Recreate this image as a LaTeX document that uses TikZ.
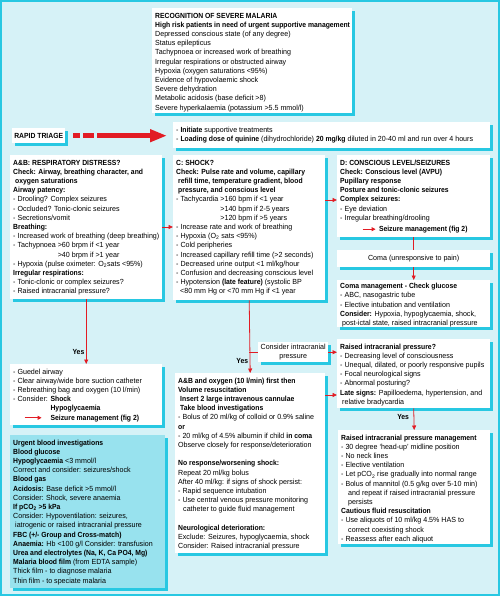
\documentclass[tikz,border=0pt]{standalone}
\usepackage{fontspec}
\setmainfont{Liberation Sans}[FakeStretch=0.96,BoldFeatures={FakeStretch=0.92}]
\usetikzlibrary{arrows.meta,shadows}

\definecolor{malbg}{RGB}{214,242,247}
\definecolor{malcyan}{RGB}{40,200,226}
\definecolor{malfill}{RGB}{152,226,238}
\definecolor{malred}{RGB}{226,28,36}

\newcommand{\panelfont}{\fontsize{7.4pt}{9.2pt}\selectfont}
\newcommand{\boxtext}[3]{\parbox[c][#2][t]{#1}{\begin{tabular}{@{}l@{}}#3\end{tabular}}}
\newcommand{\redarr}[1]{\tikz[baseline=-0.6ex]\draw[malred,line width=0.8pt,-{Triangle[length=4pt,width=4pt]}] (0,0) -- (#1,0);}

\tikzset{
  panel/.style={fill=white, anchor=north west, inner xsep=3pt, inner ysep=3.5pt, font=\panelfont,
    drop shadow={shadow xshift=2.5pt, shadow yshift=-2.5pt, fill=malcyan, opacity=1}},
  label box/.style={panel, inner sep=0pt, align=center},
  link/.style={draw=malred, line width=0.8pt, -{Triangle[length=4.5pt,width=4pt]}},
  plain link/.style={draw=malred, line width=0.8pt},
  yes/.style={font=\panelfont\bfseries, inner sep=1.5pt},
  triage arrow/.style={draw=malred, line width=5pt,
    dash pattern=on 7pt off 3pt on 11pt off 3pt on 300pt off 0pt,
    -{Triangle[length=17pt,width=12pt]}}
}

\begin{document}
\begin{tikzpicture}[x=1pt,y=-1pt]
\useasboundingbox (0,0) rectangle (500,596);
\fill[malbg] (0,0) rectangle (500,596);
\draw[malcyan, line width=2pt] (1,1) rectangle (499,595);

% top panel
\node[panel] (rec) at (152,8) {\boxtext{194pt}{98pt}{%
\textbf{RECOGNITION OF SEVERE MALARIA}\\
\textbf{High risk patients in need of urgent supportive management}\\
Depressed conscious state (of any degree)\\
Status epilepticus\\
Tachypnoea or increased work of breathing\\
Irregular respirations or obstructed airway\\
Hypoxia (oxygen saturations <95\%)\\
Evidence of hypovolaemic shock\\
Severe dehydration\\
Metabolic acidosis (base deficit >8)\\
Severe hyperkalaemia (potassium >5.5 mmol/l)}};

% triage
\node[label box, minimum width=53pt, minimum height=15pt] (triage) at (12,128) {\textbf{RAPID TRIAGE}};
\node[panel] (init) at (173,122) {\boxtext{311pt}{19pt}{%
- \textbf{Initiate} supportive treatments\\
- \textbf{Loading dose of quinine} (dihydrochloride) \textbf{20 mg/kg} diluted in 20-40 ml and run over 4 hours}};
\draw[triage arrow, shorten <=8pt, shorten >=6pt] (triage.east) -- (triage.east -| init.west);

% A&B
\node[panel] (resp) at (10,155) {\boxtext{146pt}{137pt}{%
\textbf{A\&B: RESPIRATORY DISTRESS?}\\
\textbf{Check: Airway, breathing character, and}\\
\textbf{\hspace*{2pt}oxygen saturations}\\
\textbf{Airway patency:}\\
- Drooling? Complex seizures\\
- Occluded? Tonic-clonic seizures\\
- Secretions/vomit\\
\textbf{Breathing:}\\
- Increased work of breathing (deep breathing)\\
- Tachypnoea >60 brpm if <1 year\\
\phantom{- Tachypnoea }>40 brpm if >1 year\\
- Hypoxia (pulse oximeter: O\textsubscript{2}sats <95\%)\\
\textbf{Irregular respirations:}\\
- Tonic-clonic or complex seizures?\\
- Raised intracranial pressure?}};

% C
\node[panel] (shock) at (173,155) {\boxtext{146pt}{138pt}{%
\textbf{C: SHOCK?}\\
\textbf{Check: Pulse rate and volume, capillary}\\
\textbf{\hspace*{2pt}refill time, temperature gradient, blood}\\
\textbf{\hspace*{2pt}pressure, and conscious level}\\
- Tachycardia >160 bpm if <1 year\\
\phantom{- Tachycardia }>140 bpm if 2-5 years\\
\phantom{- Tachycardia }>120 bpm if >5 years\\
- Increase rate and work of breathing\\
- Hypoxia (O\textsubscript{2} sats <95\%)\\
- Cold peripheries\\
- Increased capillary refill time (>2 seconds)\\
- Decreased urine output <1 ml/kg/hour\\
- Confusion and decreasing conscious level\\
- Hypotension \textbf{(late feature)} (systolic BP\\
\hspace*{4pt}<80 mm Hg or <70 mm Hg if <1 year}};

% D
\node[panel] (consc) at (337,155) {\boxtext{147pt}{75pt}{%
\textbf{D: CONSCIOUS LEVEL/SEIZURES}\\
\textbf{Check: Conscious level (AVPU)}\\
\textbf{Pupillary response}\\
\textbf{Posture and tonic-clonic seizures}\\
\textbf{Complex seizures:}\\
- Eye deviation\\
- Irregular breathing/drooling\\[2pt]
\hspace*{22pt}\redarr{13pt}\hspace{3pt}\textbf{Seizure management (fig 2)}}};

\node[label box, minimum width=153pt, minimum height=17pt] (coma) at (337,250) {Coma (unresponsive to pain)};

\node[panel, inner ysep=2pt] (comamgmt) at (337,280) {\boxtext{147pt}{43pt}{%
\textbf{Coma management - Check glucose}\\
- ABC, nasogastric tube\\
- Elective intubation and ventilation\\
\textbf{Consider:} Hypoxia, hypoglycaemia, shock,\\
\hspace*{2pt}post-ictal state, raised intracranial pressure}};

\node[panel] (icpq) at (337,339) {\boxtext{147pt}{62pt}{%
\textbf{Raised intracranial pressure?}\\
- Decreasing level of consciousness\\
- Unequal, dilated, or poorly responsive pupils\\
- Focal neurological signs\\
- Abnormal posturing?\\
\textbf{Late signs:} Papilloedema, hypertension, and\\
\hspace*{2pt}relative bradycardia}};

\node[panel] (icpmgmt) at (338,430) {\boxtext{146pt}{107pt}{%
\textbf{Raised intracranial pressure management}\\
- 30 degree `head-up' midline position\\
- No neck lines\\
- Elective ventilation\\
- Let pCO\textsubscript{2} rise gradually into normal range\\
- Bolus of mannitol (0.5 g/kg over 5-10 min)\\
\hspace*{7pt}and repeat if raised intracranial pressure\\
\hspace*{7pt}persists\\
\textbf{Cautious fluid resuscitation}\\
- Use aliquots of 10 ml/kg 4.5\% HAS to\\
\hspace*{7pt}correct coexisting shock\\
- Reassess after each aliquot}};

% lower left
\node[panel] (airway) at (10,364) {\boxtext{146pt}{54pt}{%
- Guedel airway\\
- Clear airway/wide bore suction catheter\\
- Rebreathing bag and oxygen (10 l/min)\\
- Consider: \textbf{Shock}\\
\phantom{- Consider: }\textbf{Hypoglycaemia}\\
\rlap{\hspace{11pt}\redarr{17pt}}\phantom{- Consider: }\textbf{Seizure management (fig 2)}}};

\node[panel, fill=malfill] (bloods) at (10,435) {\boxtext{149pt}{146pt}{%
\textbf{Urgent blood investigations}\\
\textbf{Blood glucose}\\
\textbf{Hypoglycaemia} <3 mmol/l\\
Correct and consider: seizures/shock\\
\textbf{Blood gas}\\
\textbf{Acidosis:} Base deficit >5 mmol/l\\
Consider: Shock, severe anaemia\\
\textbf{If pCO\textsubscript{2} >5 kPa}\\
Consider: Hypoventilation: seizures,\\
\hspace*{2pt}iatrogenic or raised intracranial pressure\\
\textbf{FBC (+/- Group and Cross-match)}\\
\textbf{Anaemia:} Hb <100 g/l Consider: transfusion\\
\textbf{Urea and electrolytes (Na, K, Ca PO4, Mg)}\\
\textbf{Malaria blood film} (from EDTA sample)\\
Thick film - to diagnose malaria\\
Thin film - to speciate malaria}};

% lower middle
\node[label box, minimum width=70pt, minimum height=20pt] (considericp) at (258,342) {Consider intracranial\\pressure};

\node[panel] (volume) at (175,373) {\boxtext{144pt}{173pt}{%
\textbf{A\&B and oxygen (10 l/min) first then}\\
\textbf{Volume resuscitation}\\
\textbf{\hspace*{2pt}Insert 2 large intravenous cannulae}\\
\textbf{\hspace*{2pt}Take blood investigations}\\
- Bolus of 20 ml/kg of colloid or 0.9\% saline\\
\textbf{or}\\
- 20 ml/kg of 4.5\% albumin if child \textbf{in coma}\\
Observe closely for response/deterioration\\
\\
\textbf{No response/worsening shock:}\\
Repeat 20 ml/kg bolus\\
After 40 ml/kg: if signs of shock persist:\\
- Rapid sequence intubation\\
- Use central venous pressure monitoring\\
\hspace*{5pt}catheter to guide fluid management\\
\\
\textbf{Neurological deterioration:}\\
Exclude: Seizures, hypoglycaemia, shock\\
Consider: Raised intracranial pressure}};

% connectors
\draw[link] (resp.east |- 0,227) -- (shock.west |- 0,227);
\draw[link] (shock.east |- 0,200) -- (consc.west |- 0,200);
\draw[plain link] (consc.south) -- (coma.north);
\draw[link] (coma.south) -- (comamgmt.north);
\draw[link] (resp.south) -- (airway.north) node[yes, pos=0.82, left] (yesresp) {Yes};
\draw[link] (shock.south) -- (volume.north) node[yes, pos=0.84, left] (yesshock) {Yes};
\draw[plain link] (shock.south |- considericp.west) -- (considericp.west);
\draw[link] (considericp.east) -- (considericp.east -| icpq.west);
\draw[link] (volume.east |- 0,395) -- (icpq.west |- 0,395);
\draw[link] (icpq.south) -- (icpmgmt.north) node[yes, pos=0.4, left=3pt] (yesicp) {Yes};
\end{tikzpicture}
\end{document}
